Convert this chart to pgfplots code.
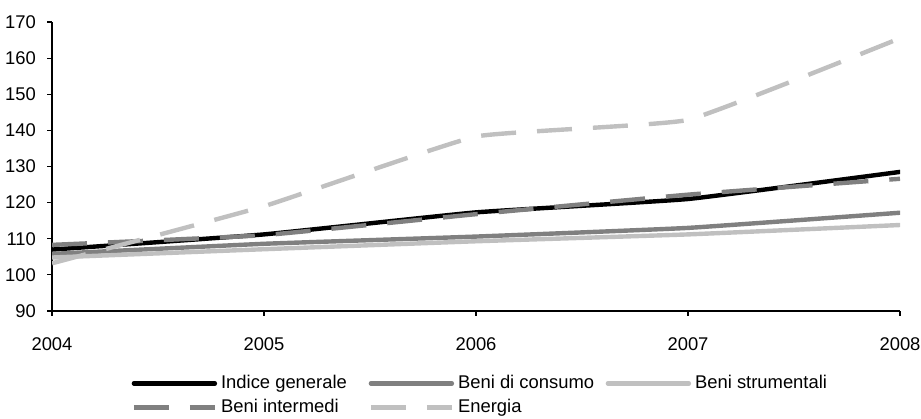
\documentclass[border=0pt]{standalone}
\usepackage{fontspec}
\setmainfont{Liberation Sans}
\usepackage{pgfplots}
\pgfplotsset{compat=1.18}
\definecolor{gmid}{RGB}{128,128,128}
\definecolor{glight}{RGB}{192,192,192}
\newcommand{\lbox}[1]{\makebox[73.8pt][l]{#1}}
\begin{document}
\begin{tikzpicture}
\begin{axis}[
  name=ax,
  scale only axis, width=424pt, height=144.5pt,
  xmin=2004, xmax=2008, ymin=90, ymax=170,
  xtick={2004,2005,2006,2007,2008}, ytick={90,100,...,170},
  axis x line=bottom, axis y line=left, axis line style={-, black, line width=0.6pt},
  tick align=outside, major tick length=2.5pt, tick style={black, line width=0.6pt},
  /pgf/number format/assume math mode=true,
  x tick label style={/pgf/number format/set thousands separator={}},
  tick label style={font=\fontsize{9.2}{11}\selectfont},
  xticklabel style={yshift=-7.5pt},
  yticklabel style={xshift=-2pt},
  line join=round,
  every axis plot/.append style={line width=2.2pt, smooth, tension=0.2, no markers},
  legend columns=3,
  legend cell align=left,
  legend style={draw=none, fill=none, at={(0.0935,-0.218)}, anchor=north west,
    inner sep=0pt, row sep=3pt,
    font=\fontsize{9.2}{11}\selectfont,
    nodes={inner sep=0pt, text height=7pt, text depth=2pt},
    /tikz/every odd column/.append style={column sep=2pt},
    /tikz/every even column/.append style={column sep=0pt}},
  legend image code/.code={\draw[#1] (0pt,0pt) -- (40.5pt,0pt);},
]
\addplot[black, line cap=round] coordinates {(2004,107.0) (2005,111.2) (2006,117.3) (2007,121.0) (2008,128.5)};
\addlegendentry{\lbox{Indice generale}}
\addplot[gmid, line cap=round] coordinates {(2004,105.8) (2005,108.6) (2006,110.6) (2007,113.0) (2008,117.2)};
\addlegendentry{\lbox{Beni di consumo}}
\addplot[glight, line cap=round] coordinates {(2004,104.8) (2005,107.1) (2006,109.3) (2007,111.2) (2008,113.8)};
\addlegendentry{Beni strumentali}
\addplot[gmid, dash pattern=on 17.5pt off 10.5pt] coordinates {(2004,108.3) (2005,111.0) (2006,116.8) (2007,122.2) (2008,126.6)};
\addlegendentry{\lbox{Beni intermedi}}
\addplot[glight, dash pattern=on 17.5pt off 10.5pt] coordinates {(2004,103.2) (2005,119.0) (2006,138.3) (2007,142.9) (2008,165.5)};
\addlegendentry{\lbox{Energia}}
\end{axis}
\pgfresetboundingbox
\path ([shift={(-26pt,-54pt)}]ax.south west) rectangle ([shift={(10.5pt,11pt)}]ax.north east);
\end{tikzpicture}
\end{document}
